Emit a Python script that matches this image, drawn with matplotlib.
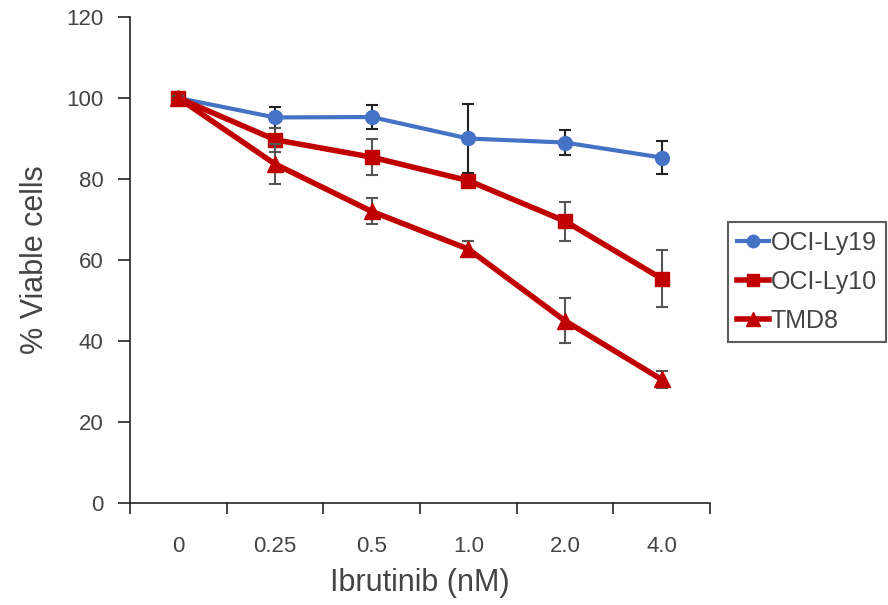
import numpy as np
import matplotlib.pyplot as plt
from matplotlib.lines import Line2D

plt.rcParams['font.family'] = ['Liberation Sans', 'DejaVu Sans']

doses = ['0', '0.25', '0.5', '1.0', '2.0', '4.0']

ly19 = [100, 95.2, 95.3, 90.0, 89.0, 85.3]
ly19_err = [0.5, 2.5, 3.0, 8.4, 3.0, 4.0]

ly10 = [100, 89.7, 85.4, 79.6, 69.6, 55.4]
ly10_err = [0.5, 3.0, 4.5, 1.0, 4.8, 7.0]

tmd8 = [100, 83.7, 72.0, 62.7, 45.0, 30.5]
tmd8_err = [0.5, 5.0, 3.2, 2.0, 5.6, 2.0]

blue = '#4472C4'
red = '#C00000'
txt = '#444444'

fig = plt.figure(figsize=(8.88, 6.05), dpi=100)
ax = fig.add_axes([0.1464, 0.1686, 0.6531, 0.8033])
x = np.arange(len(doses))

ax.errorbar(x, ly19, yerr=ly19_err, color=blue, marker='o', markersize=10, linewidth=3,
            ecolor='#222222', elinewidth=1.5, capsize=4, capthick=1.5, zorder=3)
ax.errorbar(x, ly10, yerr=ly10_err, color=red, marker='s', markersize=10, linewidth=4,
            ecolor='#555555', elinewidth=1.5, capsize=4, capthick=1.5, zorder=4)
ax.errorbar(x, tmd8, yerr=tmd8_err, color=red, marker='^', markersize=11, linewidth=4,
            ecolor='#555555', elinewidth=1.5, capsize=4, capthick=1.5, zorder=5)

ax.set_xlim(-0.5, 5.5)
ax.set_ylim(0, 120)
ax.set_yticks(np.arange(0, 121, 20))
ax.set_xticks(np.arange(-0.5, 5.6, 1.0))
ax.set_xticklabels([])
ax.set_xticks(x, minor=True)
ax.set_xticklabels(doses, minor=True)
ax.tick_params(axis='x', which='minor', length=0, pad=24, labelsize=16, labelcolor=txt)
ax.tick_params(axis='x', which='major', direction='out', length=8, width=1.2, color='#222222')
ax.tick_params(axis='y', direction='out', length=9, width=1.2, color='#222222',
               labelsize=16, labelcolor=txt, pad=10)

for s in ['top', 'right']:
    ax.spines[s].set_visible(False)
for s in ['left', 'bottom']:
    ax.spines[s].set_linewidth(1.2)
    ax.spines[s].set_color('#222222')

ax.set_xlabel('Ibrutinib (nM)', fontsize=22, color=txt, labelpad=8)
ax.set_ylabel('% Viable cells', fontsize=22, color=txt, labelpad=12)

handles = [
    Line2D([], [], color=blue, marker='o', markersize=9, linewidth=3),
    Line2D([], [], color=red, marker='s', markersize=9, linewidth=4),
    Line2D([], [], color=red, marker='^', markersize=10, linewidth=4),
]
leg = fig.legend(handles, ['OCI-Ly19', 'OCI-Ly10', 'TMD8'], loc='upper left',
                 bbox_to_anchor=(0.82, 0.633), fontsize=18,
                 frameon=True, fancybox=False, shadow=False, handlelength=1.3,
                 handletextpad=0.05, labelspacing=0.6, borderpad=0.35, borderaxespad=0)
leg.get_frame().set_edgecolor('#333333')
leg.get_frame().set_linewidth(1.5)
for t in leg.get_texts():
    t.set_color(txt)

fig.savefig('out.png', dpi=100)
